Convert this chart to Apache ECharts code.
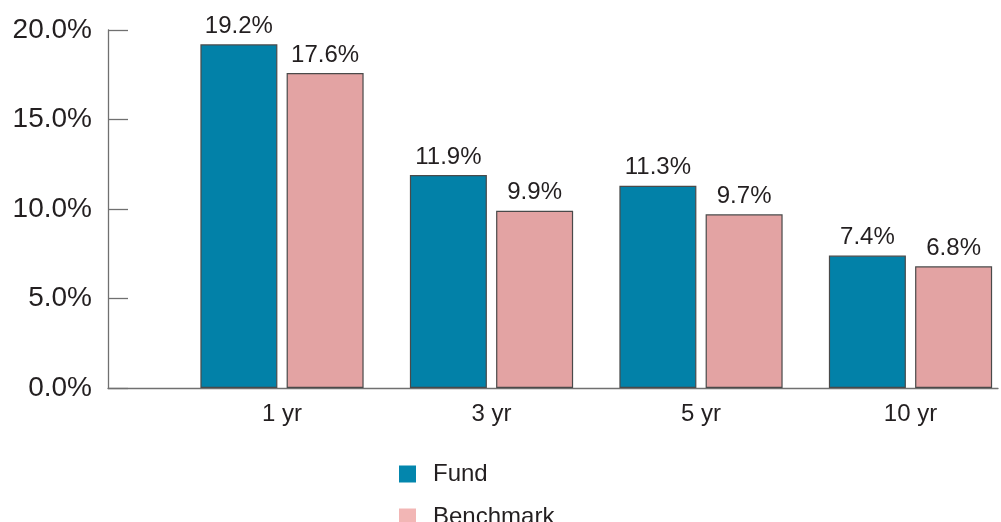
<!DOCTYPE html>
<html>
<head>
<meta charset="utf-8">
<script src="https://cdn.jsdelivr.net/npm/echarts@6/dist/echarts.min.js"></script>
<style>html,body{margin:0;padding:0;background:#fff}#c{width:1001px;height:522px}</style>
</head>
<body>
<div id="c"></div>
<script>
const categories = ['1 yr', '3 yr', '5 yr', '10 yr'];
const fund = [19.2, 11.9, 11.3, 7.4];
const benchmark = [17.6, 9.9, 9.7, 6.8];
const seriesNames = ['Fund', 'Benchmark'];
const yTicks = { min: 0, max: 20, interval: 5 };

const FONT = 'Liberation Sans, Arial, Helvetica, sans-serif';
const TXT = '#231F20';
const AX = '#707070';
const legendBase = {
  orient: 'vertical', left: 399, itemWidth: 17, itemHeight: 17, icon: 'rect', padding: 0,
  textStyle: { color: TXT, fontSize: 24, fontFamily: FONT, padding: [0, 0, 0, 12] }
};
const chart = echarts.init(document.getElementById('c'), null, { renderer: 'canvas' });
chart.setOption({
  animation: false,
  backgroundColor: '#fff',
  textStyle: { fontFamily: FONT },
  grid: [
    { left: 108, top: 30, width: 890, height: 358, outerBoundsMode: 'none', containLabel: false },
    { left: 177.25, top: 30, width: 838, height: 358, outerBoundsMode: 'none', containLabel: false }
  ],
  xAxis: [
    { type: 'category', gridIndex: 0, data: [''], axisLine: { lineStyle: { color: AX, width: 1.3 } },
      axisTick: { show: false }, axisLabel: { show: false } },
    { type: 'category', gridIndex: 1, data: categories, axisLine: { show: false },
      axisTick: { show: false },
      axisLabel: { color: TXT, fontSize: 24, fontFamily: FONT, margin: 14 } }
  ],
  yAxis: [
    { type: 'value', gridIndex: 0, min: yTicks.min, max: yTicks.max, interval: yTicks.interval,
      axisLine: { show: true, lineStyle: { color: AX, width: 1.3 } },
      axisTick: { show: true, inside: true, length: 20, lineStyle: { color: AX, width: 1.3 } },
      splitLine: { show: false },
      axisLabel: { color: TXT, fontSize: 28, fontFamily: FONT, margin: 16,
        formatter: v => v.toFixed(1) + '%' } },
    { type: 'value', gridIndex: 1, min: yTicks.min, max: yTicks.max, interval: yTicks.interval, show: false }
  ],
  legend: [
    Object.assign({}, legendBase, { top: 462,
      data: [{ name: seriesNames[0], itemStyle: { color: '#0386AD', borderWidth: 0 } }] }),
    Object.assign({}, legendBase, { top: 505,
      data: [{ name: seriesNames[1], itemStyle: { color: '#F2B6B5', borderWidth: 0 } }] })
  ],
  series: [
    { name: seriesNames[0], type: 'bar', xAxisIndex: 1, yAxisIndex: 1, data: fund,
      barWidth: 77, barGap: '12%',
      itemStyle: { color: '#0281A8', borderColor: '#4a4a4a', borderWidth: 1.2 },
      label: { show: true, position: 'top', distance: 6, color: TXT, fontSize: 24, fontFamily: FONT,
        formatter: p => p.value.toFixed(1) + '%' } },
    { name: seriesNames[1], type: 'bar', xAxisIndex: 1, yAxisIndex: 1, data: benchmark,
      barWidth: 77, barGap: '12%',
      itemStyle: { color: '#E3A3A3', borderColor: '#4a4a4a', borderWidth: 1.2 },
      label: { show: true, position: 'top', distance: 6, color: TXT, fontSize: 24, fontFamily: FONT,
        formatter: p => p.value.toFixed(1) + '%' } }
  ]
});
</script>
</body>
</html>
